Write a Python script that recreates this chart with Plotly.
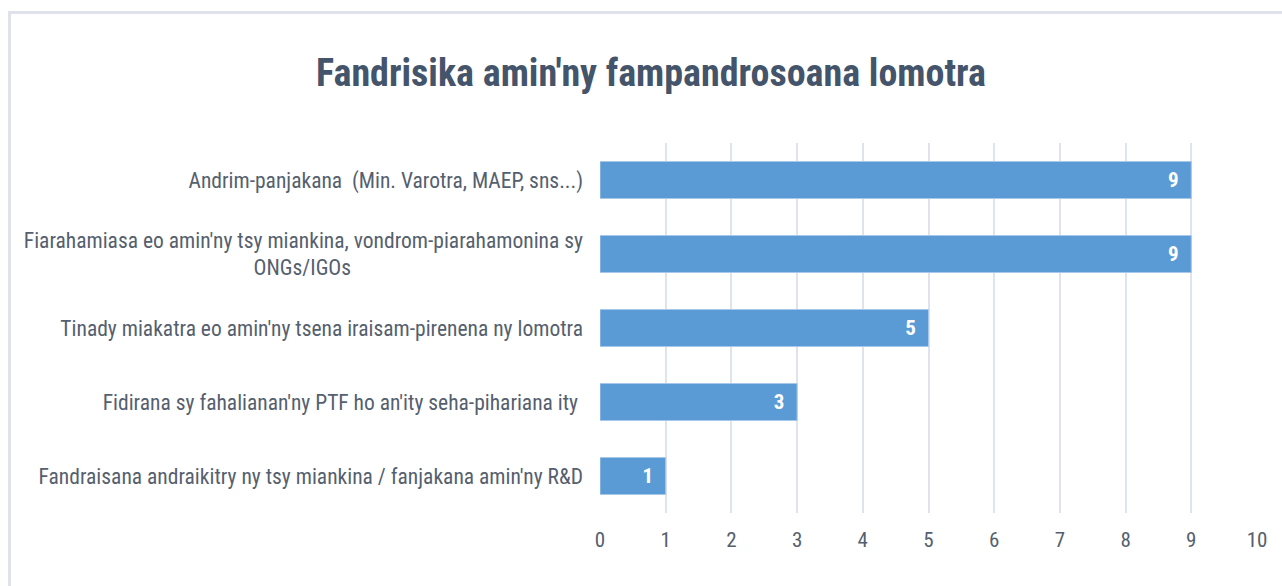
import plotly.graph_objects as go

categories = [
    "Andrim-panjakana  (Min. Varotra, MAEP, sns...)",
    "Fiarahamiasa eo amin'ny tsy miankina, vondrom-piarahamonina sy<br>ONGs/IGOs" + "\u00a0" * 47,
    "Tinady miakatra eo amin'ny tsena iraisam-pirenena ny lomotra",
    "Fidirana sy fahalianan'ny PTF ho an'ity seha-pihariana ity\u00a0",
    "Fandraisana andraikitry ny tsy miankina / fanjakana amin'ny R&D",
]
values = [9, 9, 5, 3, 1]
x_ticks = list(range(0, 11))
title = "Fandrisika amin'ny fampandrosoana lomotra"

W, H = 1282, 586
L, R, T, B = 600, 25, 143, 73
pw, ph = W - L - R, H - T - B

def px(x):
    return (x - L) / pw

def py(y):
    return (H - B - y) / ph

font_fam = "Liberation Sans Narrow, Roboto Condensed, Open Sans, sans-serif"

fig = go.Figure(go.Bar(
    y=categories, x=values, orientation="h",
    marker=dict(color="#5b9bd5", line=dict(color="#a8c8ea", width=1)),
    text=[f"{v}\u00a0\u00a0" for v in values], textposition="inside", insidetextanchor="end",
    textfont=dict(color="white", size=21, family=font_fam, weight="bold"),
    hoverinfo="skip",
))

fig.update_layout(
    width=W, height=H,
    margin=dict(l=L, r=R, t=T, b=B),
    paper_bgcolor="white", plot_bgcolor="white",
    bargap=0.5,
    showlegend=False,
    title=dict(text=title, x=651 / W, xref="container", y=1 - 73 / H, yref="container",
               xanchor="center", yanchor="middle",
               font=dict(family=font_fam, size=38, color="#44546a", weight="bold")),
    xaxis=dict(range=[0, 10], tickvals=x_ticks, showgrid=True, gridcolor="#dfe3eb",
               gridwidth=1.5, zeroline=False, showline=False, ticks="",
               ticklabelstandoff=12,
               tickfont=dict(family=font_fam, size=21, color="#55606e")),
    yaxis=dict(autorange="reversed", showgrid=False, zeroline=False, showline=False,
               ticks="", ticklabelstandoff=16,
               tickfont=dict(family=font_fam, size=21.5, color="#55606e")),
    shapes=[dict(type="rect", xref="paper", yref="paper",
                 x0=px(9.5), x1=px(1300), y0=py(620), y1=py(12.5),
                 line=dict(color="#dfe2ea", width=3), fillcolor="rgba(0,0,0,0)", layer="below")],
)

fig.write_html("out.html", config={"displayModeBar": False},
               post_script="document.body.style.margin='0';")
